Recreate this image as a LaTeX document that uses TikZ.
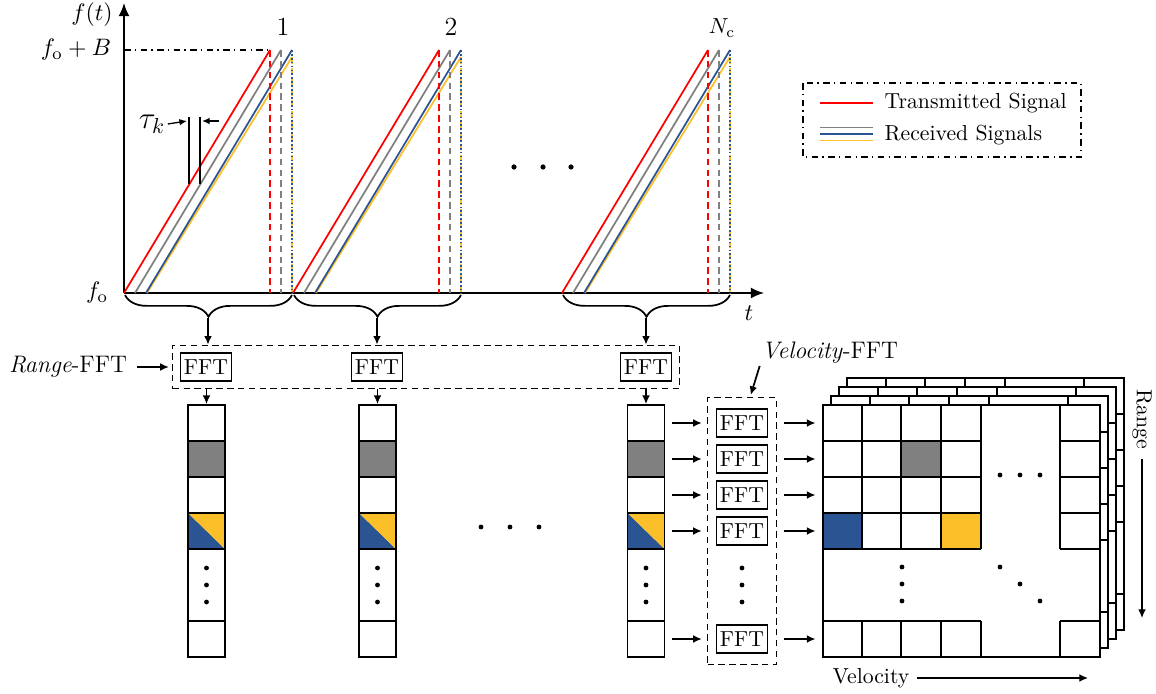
\documentclass[tikz,border=0pt]{standalone}
\usepackage{amsmath}
\usepackage{xcolor}
\definecolor{txred}{HTML}{FF0000}
\definecolor{rxgray}{HTML}{808080}
\definecolor{rxblue}{HTML}{2B5592}
\definecolor{rxyellow}{HTML}{FBBF2A}
\usetikzlibrary{arrows.meta, positioning, calc, fit, decorations.pathreplacing}

\begin{document}
\begin{tikzpicture}[x=0.46pt, y=-0.46pt,
    arr/.style={-{Latex[length=4pt,width=3.6pt]}, thick},
    chirp/.style={line width=0.8pt},
    fft/.style={draw, thick, minimum width=23.5pt, minimum height=12.9pt, inner sep=1pt},
    cell/.style={thick},
    dotmark/.style={fill=black},
    bigger/.style={font=\fontsize{11}{13}\selectfont},
    bracedown/.style={decorate, thick, decoration={brace, mirror, amplitude=10pt}}
]
    \useasboundingbox (0,0) rectangle (1156,694);

    % Axes
    \draw[thick, -{Latex[length=6pt,width=5pt]}] (124,293) -- (124,3);
    \draw[thick, -{Latex[length=6pt,width=5pt]}] (124,293) -- (764,293);
    \node[bigger] (ftlabel) at (92,15) {$f(t)$};
    \node[bigger] (fblabel) at (76,50) {$f_\mathrm{o}+B$};
    \node[bigger] (folabel) at (97,293) {$f_\mathrm{o}$};
    \node[bigger] (tlabel) at (749,313) {$t$};
    \draw[semithick, dash dot] (124,50) -- (270,50);

    % Chirps
    \foreach \o/\n in {0/1, 169/2, 438/3} {
        \draw[chirp, txred] (\o+124,293) -- (\o+270,50);
        \draw[chirp, rxgray] (\o+135,293) -- (\o+281,50);
        \draw[chirp, rxyellow] (\o+147,293) -- (\o+292,57);
        \draw[chirp, rxblue] (\o+146,293) -- (\o+292,50);
        \draw[chirp, txred, densely dashed] (\o+270,50) -- (\o+270,293);
        \draw[chirp, rxgray, densely dashed] (\o+281,50) -- (\o+281,293);
        \draw[chirp, rxyellow, densely dashed] (\o+292,57) -- (\o+292,293);
        \draw[chirp, rxblue, densely dotted] (\o+292,50) -- (\o+292,293);
        \draw[bracedown] (\o+125,295) -- (\o+292,295);
        \coordinate (tip\n) at (\o+208,318);
    }
    \node (chirp1) at (283,27) {\large $1$};
    \node (chirp2) at (451,27) {\large $2$};
    \node (chirp3) at (722,28) {$N_\mathrm{c}$};
    \foreach \xx in {514,543,571}
        \fill[dotmark] (\xx,167) circle (1.2pt);

    % Delay
    \draw[semithick] (189,117) -- (189,184);
    \draw[semithick] (200,117) -- (200,184);
    \node[font=\Large, inner sep=1pt] (taulabel) at (152,124) {$\tau_k$};
    \draw[semithick, -{Latex[length=3.5pt,width=3pt]}] (taulabel.east) -- (187,121);
    \draw[semithick, -{Latex[length=3.5pt,width=3pt]}] (219,121) -- (202,121);

    % Legend
    \draw[semithick, dash dot] (803,83) rectangle (1081,157);
    \draw[semithick, txred] (820,103) -- (873,103);
    \draw[semithick, rxgray] (820,127.5) -- (873,127.5);
    \draw[semithick, rxblue] (820,134) -- (873,134);
    \draw[semithick, rxyellow] (820,140.5) -- (873,140.5);
    \node[anchor=west] (legtx) at (877,103) {Transmitted Signal};
    \node[anchor=west] (legrx) at (877,135) {Received Signals};

    % Range-FFT
    \node[fft] (rfft1) at (206,367) {FFT};
    \node[fft] (rfft2) at (377,367) {FFT};
    \node[fft] (rfft3) at (646,367) {FFT};
    \node[draw, densely dashed, inner sep=3.2pt, fit=(rfft1)(rfft3)] (rangebox) {};
    \node[bigger] (rlabel) at (68,367) {\textit{Range}-FFT};
    \draw[arr] ([xshift=1pt]rlabel.east) -- ([xshift=-1.5pt]rangebox.west);
    \foreach \n in {1,2,3}
        \draw[arr] (tip\n) -- (tip\n |- rangebox.north);

    % Range profiles
    \foreach \cx/\n in {206.5/1, 377.5/2, 646/3} {
        \fill[rxgray] (\cx-18.5,441) rectangle (\cx+18.5,477);
        \fill[rxblue] (\cx-18.5,513) -- (\cx-18.5,549) -- (\cx+18.5,549) -- cycle;
        \fill[rxyellow] (\cx-18.5,513) -- (\cx+18.5,513) -- (\cx+18.5,549) -- cycle;
        \node[draw, thick, minimum width=17pt, minimum height=115.9pt, inner sep=0pt] (col\n) at (\cx,531) {};
        \foreach \yy in {441,477,513,549,621}
            \draw[cell] (\cx-18.5,\yy) -- (\cx+18.5,\yy);
        \foreach \yy in {568,585,602}
            \fill[dotmark] (\cx,\yy) circle (1.1pt);
        \draw[arr] (rangebox.south -| col\n.north) -- (col\n.north);
    }
    \foreach \xx in {481,510,539}
        \fill[dotmark] (\xx,527) circle (1.1pt);

    % Velocity-FFT
    \foreach \k/\yy in {1/423, 2/459, 3/495, 4/531, 5/639}
        \node[fft] (vfft\k) at (742,\yy) {FFT};
    \foreach \yy in {568,585,602}
        \fill[dotmark] (742,\yy) circle (1.1pt);
    \node[draw, densely dashed, inner xsep=3.7pt, inner ysep=4.8pt, fit=(vfft1)(vfft5)] (vbox) {};
    \node[bigger] (vlabel) at (830,353) {\textit{Velocity}-FFT};
    \draw[arr] ([xshift=2.5pt,yshift=2.5pt]vlabel.south west) -- ([xshift=4pt,yshift=1pt]vbox.north);

    % Range-Doppler map
    \foreach \k in {3,2,1,0} {
        \begin{scope}[shift={(8*\k,-9*\k)}]
            \fill[white] (823,405) rectangle (1100,657);
            \ifnum\k=0
                \fill[rxgray] (901,441) rectangle (941,477);
                \fill[rxblue] (823,513) rectangle (862,549);
                \fill[rxyellow] (941,513) rectangle (981,549);
            \fi
            \draw[cell] (823,405) rectangle (1100,657);
            \foreach \xx in {862,901,941,981,1060} {
                \draw[cell] (\xx,405) -- (\xx,549);
                \draw[cell] (\xx,621) -- (\xx,657);
            }
            \foreach \yy in {441,477,513,549,621} {
                \draw[cell] (823,\yy) -- (981,\yy);
                \draw[cell] (1060,\yy) -- (1100,\yy);
            }
        \end{scope}
    }
    \node[inner sep=0pt, fit={(823,405) (1100,657)}] (rdmap) {};
    \foreach \xx in {1000,1020,1040}
        \fill[dotmark] (\xx,475) circle (1.1pt);
    \foreach \yy in {567,584,601}
        \fill[dotmark] (902,\yy) circle (1.1pt);
    \foreach \xx/\yy in {1000/567, 1020/584, 1040/601}
        \fill[dotmark] (\xx,\yy) circle (1.1pt);

    \foreach \k in {1,...,5} {
        \draw[arr] ([xshift=3.2pt]col3.east |- vfft\k) -- ([xshift=-2.4pt]vbox.west |- vfft\k);
        \draw[arr] ([xshift=3.2pt]vbox.east |- vfft\k) -- ([xshift=-3.2pt]rdmap.west |- vfft\k);
    }

    % Labels
    \node[rotate=-90] (rangeaxis) at (1142,419) {Range};
    \coordinate (rangeend) at (1142,618);
    \draw[arr, semithick] ([yshift=-1pt]rangeaxis.east) -- (rangeaxis.east |- rangeend);
    \node (velaxis) at (871,678) {Velocity};
    \coordinate (velend) at (1088,678);
    \draw[arr, semithick] (velaxis.east) -- (velend);
\end{tikzpicture}
\end{document}
